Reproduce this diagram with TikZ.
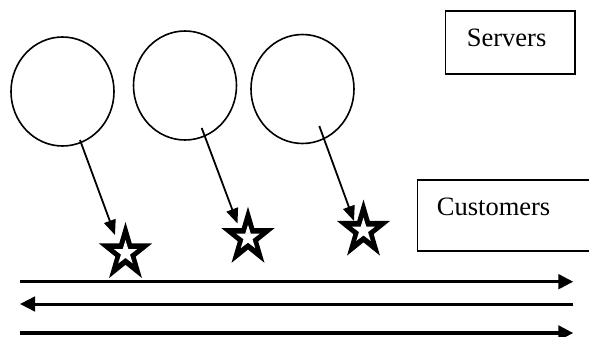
\documentclass[tikz,border=0pt]{standalone}
\usepackage{fontspec}
\setmainfont{Liberation Serif}
\usetikzlibrary{arrows.meta,shapes.geometric}

\begin{document}
\begin{tikzpicture}[x=1pt,y=-1pt,
  server/.style={ellipse,draw,line width=1.6pt,minimum width=103pt,minimum height=109pt,inner sep=0pt},
  legendbox/.style={draw,line width=1.5pt,inner sep=0pt},
  legendtext/.style={font=\fontsize{26.5}{30}\selectfont,inner sep=0pt,anchor=base west},
  pointer/.style={line width=1.8pt,-{Triangle[length=15pt,width=12pt]}},
  track/.style={line width=3.4pt},
  trackhead/.style={-{Triangle[length=15pt,width=14.5pt]}},
  pics/customer/.style={code={
    % black five-pointed star with a small white star inside
    \fill[black] (-90:28 and 31) -- (-54:10.7 and 11.8) -- (-18:28 and 31) -- (18:10.7 and 11.8)
      -- (54:28 and 31) -- (90:10.7 and 11.8) -- (126:28 and 31) -- (162:10.7 and 11.8)
      -- (198:28 and 31) -- (234:10.7 and 11.8) -- cycle;
    \fill[white] (-90:12.3 and 12.9) -- (-54:4.7 and 4.9) -- (-18:12.3 and 12.9) -- (18:4.7 and 4.9)
      -- (54:12.3 and 12.9) -- (90:4.7 and 4.9) -- (126:12.3 and 12.9) -- (162:4.7 and 4.9)
      -- (198:12.3 and 12.9) -- (234:4.7 and 4.9) -- cycle;
  }}
]
\useasboundingbox (0,0) rectangle (589,337);

% servers
\node[server] (srv1) at (62.5,91.5) {};
\node[server] (srv2) at (185,85.5) {};
\node[server] (srv3) at (302.5,89) {};

% customers
\coordinate (cst1) at (125.5,253);
\coordinate (cst2) at (248,237.7);
\coordinate (cst3) at (363.5,230.5);
\pic at (cst1) {customer};
\pic at (cst2) {customer};
\pic at (cst3) {customer};

% service arrows
\coordinate (out1) at (80,140);
\coordinate (out2) at (201.7,128);
\coordinate (out3) at (319.3,126);
\coordinate (in1) at (115,235);
\coordinate (in2) at (237.5,223.5);
\coordinate (in3) at (354,221);
\draw[pointer] (out1) -- (in1);
\draw[pointer] (out2) -- (in2);
\draw[pointer] (out3) -- (in3);

% legend
\node[legendbox,minimum width=129.3pt,minimum height=63pt] (srvbox) at (510.35,42.5) {};
\node[legendtext] (srvtext) at (466.7,46.7) {Servers};
\begin{scope}
  \clip (0,0) rectangle (589,337);
  \node[legendbox,minimum width=185pt,minimum height=71pt] (cstbox) at (509.8,215.5) {};
\end{scope}
\node[legendtext] (csttext) at (436.7,215) {Customers};

% queue lanes
\coordinate (l1w) at (20,281.7);
\coordinate (l1e) at (573.3,281.7);
\coordinate (l2w) at (20,304);
\coordinate (l2e) at (573.3,304);
\coordinate (l3w) at (20,333);
\coordinate (l3e) at (573.3,333);
\draw[track,trackhead] (l1w) -- (l1e);
\draw[track,line width=3pt,trackhead] (l2e) -- (l2w);
\draw[track,line width=3.6pt,trackhead] (l3w) -- (l3e);
\end{tikzpicture}
\end{document}
